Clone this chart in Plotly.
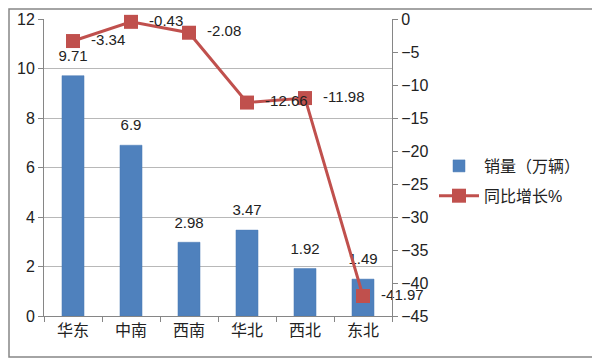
import plotly.graph_objects as go

categories = ["华东", "中南", "西南", "华北", "西北", "东北"]
sales = [9.71, 6.9, 2.98, 3.47, 1.92, 1.49]
growth = [-3.34, -0.43, -2.08, -12.66, -11.98, -41.97]
growth_labels = ["-3.34", "-0.43", "-2.08", "-12.66", "-11.98", "-41.97"]
sales_labels = ["9.71", "6.9", "2.98", "3.47", "1.92", "1.49"]

FONT = "Liberation Sans, Noto Sans CJK SC, sans-serif"
# page body has an 8px margin, so the figure starts at (8, 8) on screen
W, H = 592, 351
L, T = 36, 11
pw, ph = 348, 297
R = W - L - pw
B = H - T - ph

fig = go.Figure()
fig.add_trace(go.Bar(
    x=categories, y=sales, name="销量（万辆）", legendgroup="a",
    marker=dict(color="#4f81bd", line=dict(color="#4a7ab5", width=0.5)),
    width=0.38, hoverinfo="skip",
))
fig.add_trace(go.Scatter(
    x=categories, y=sales, mode="markers+text", showlegend=False,
    marker=dict(size=16, opacity=0),
    text=sales_labels, textposition="top center", cliponaxis=False,
    textfont=dict(size=15, color="#222", family=FONT),
))
fig.add_trace(go.Scatter(
    x=categories, y=growth, name="同比增长%", yaxis="y2", legendgroup="b",
    mode="lines+markers+text",
    line=dict(color="#c0504d", width=3),
    marker=dict(symbol="square", size=14, color="#c0504d"),
    text=growth_labels, texttemplate="  %{text}", textposition="middle right", cliponaxis=False,
    textfont=dict(size=15, color="#222", family=FONT),
))

fig.update_layout(
    width=W, height=H,
    margin=dict(l=L, r=R, t=T, b=B, autoexpand=False),
    paper_bgcolor="white", plot_bgcolor="white",
    font=dict(family=FONT, size=15, color="#222"),
    showlegend=True,
    legend=dict(x=(426 - L) / pw, y=(T + ph - 141) / ph, xanchor="left", yanchor="top",
                font=dict(size=16, family=FONT), tracegroupgap=6, itemwidth=40,
                bgcolor="rgba(0,0,0,0)"),
    bargap=0.6,
    xaxis=dict(
        showline=True, linecolor="#868686", linewidth=1, automargin=False,
        ticks="outside", tickson="boundaries", ticklen=5, tickcolor="#868686",
        showgrid=False, tickfont=dict(size=16),
    ),
    yaxis=dict(
        range=[0, 12], dtick=2, showline=True, linecolor="#868686", linewidth=1,
        ticks="outside", ticklen=5, tickcolor="#868686", automargin=False,
        showgrid=True, gridcolor="#b8b8b8", gridwidth=1, zeroline=False,
        tickfont=dict(size=16),
    ),
    yaxis2=dict(
        range=[-45, 0], dtick=5, overlaying="y", side="right", anchor="x",
        showline=True, linecolor="#868686", linewidth=1, automargin=False,
        ticks="outside", ticklen=5, tickcolor="#868686",
        showgrid=False, zeroline=False, tickfont=dict(size=16),
    ),
    shapes=[dict(
        type="rect", xref="paper", yref="paper",
        x0=(1 - L) / pw, x1=(589 - L) / pw,
        y0=(T + ph - 349) / ph, y1=(T + ph - 1) / ph,
        line=dict(color="#868686", width=1.5), fillcolor="rgba(0,0,0,0)", layer="below",
    )],
)

fig.write_html("out.html")
